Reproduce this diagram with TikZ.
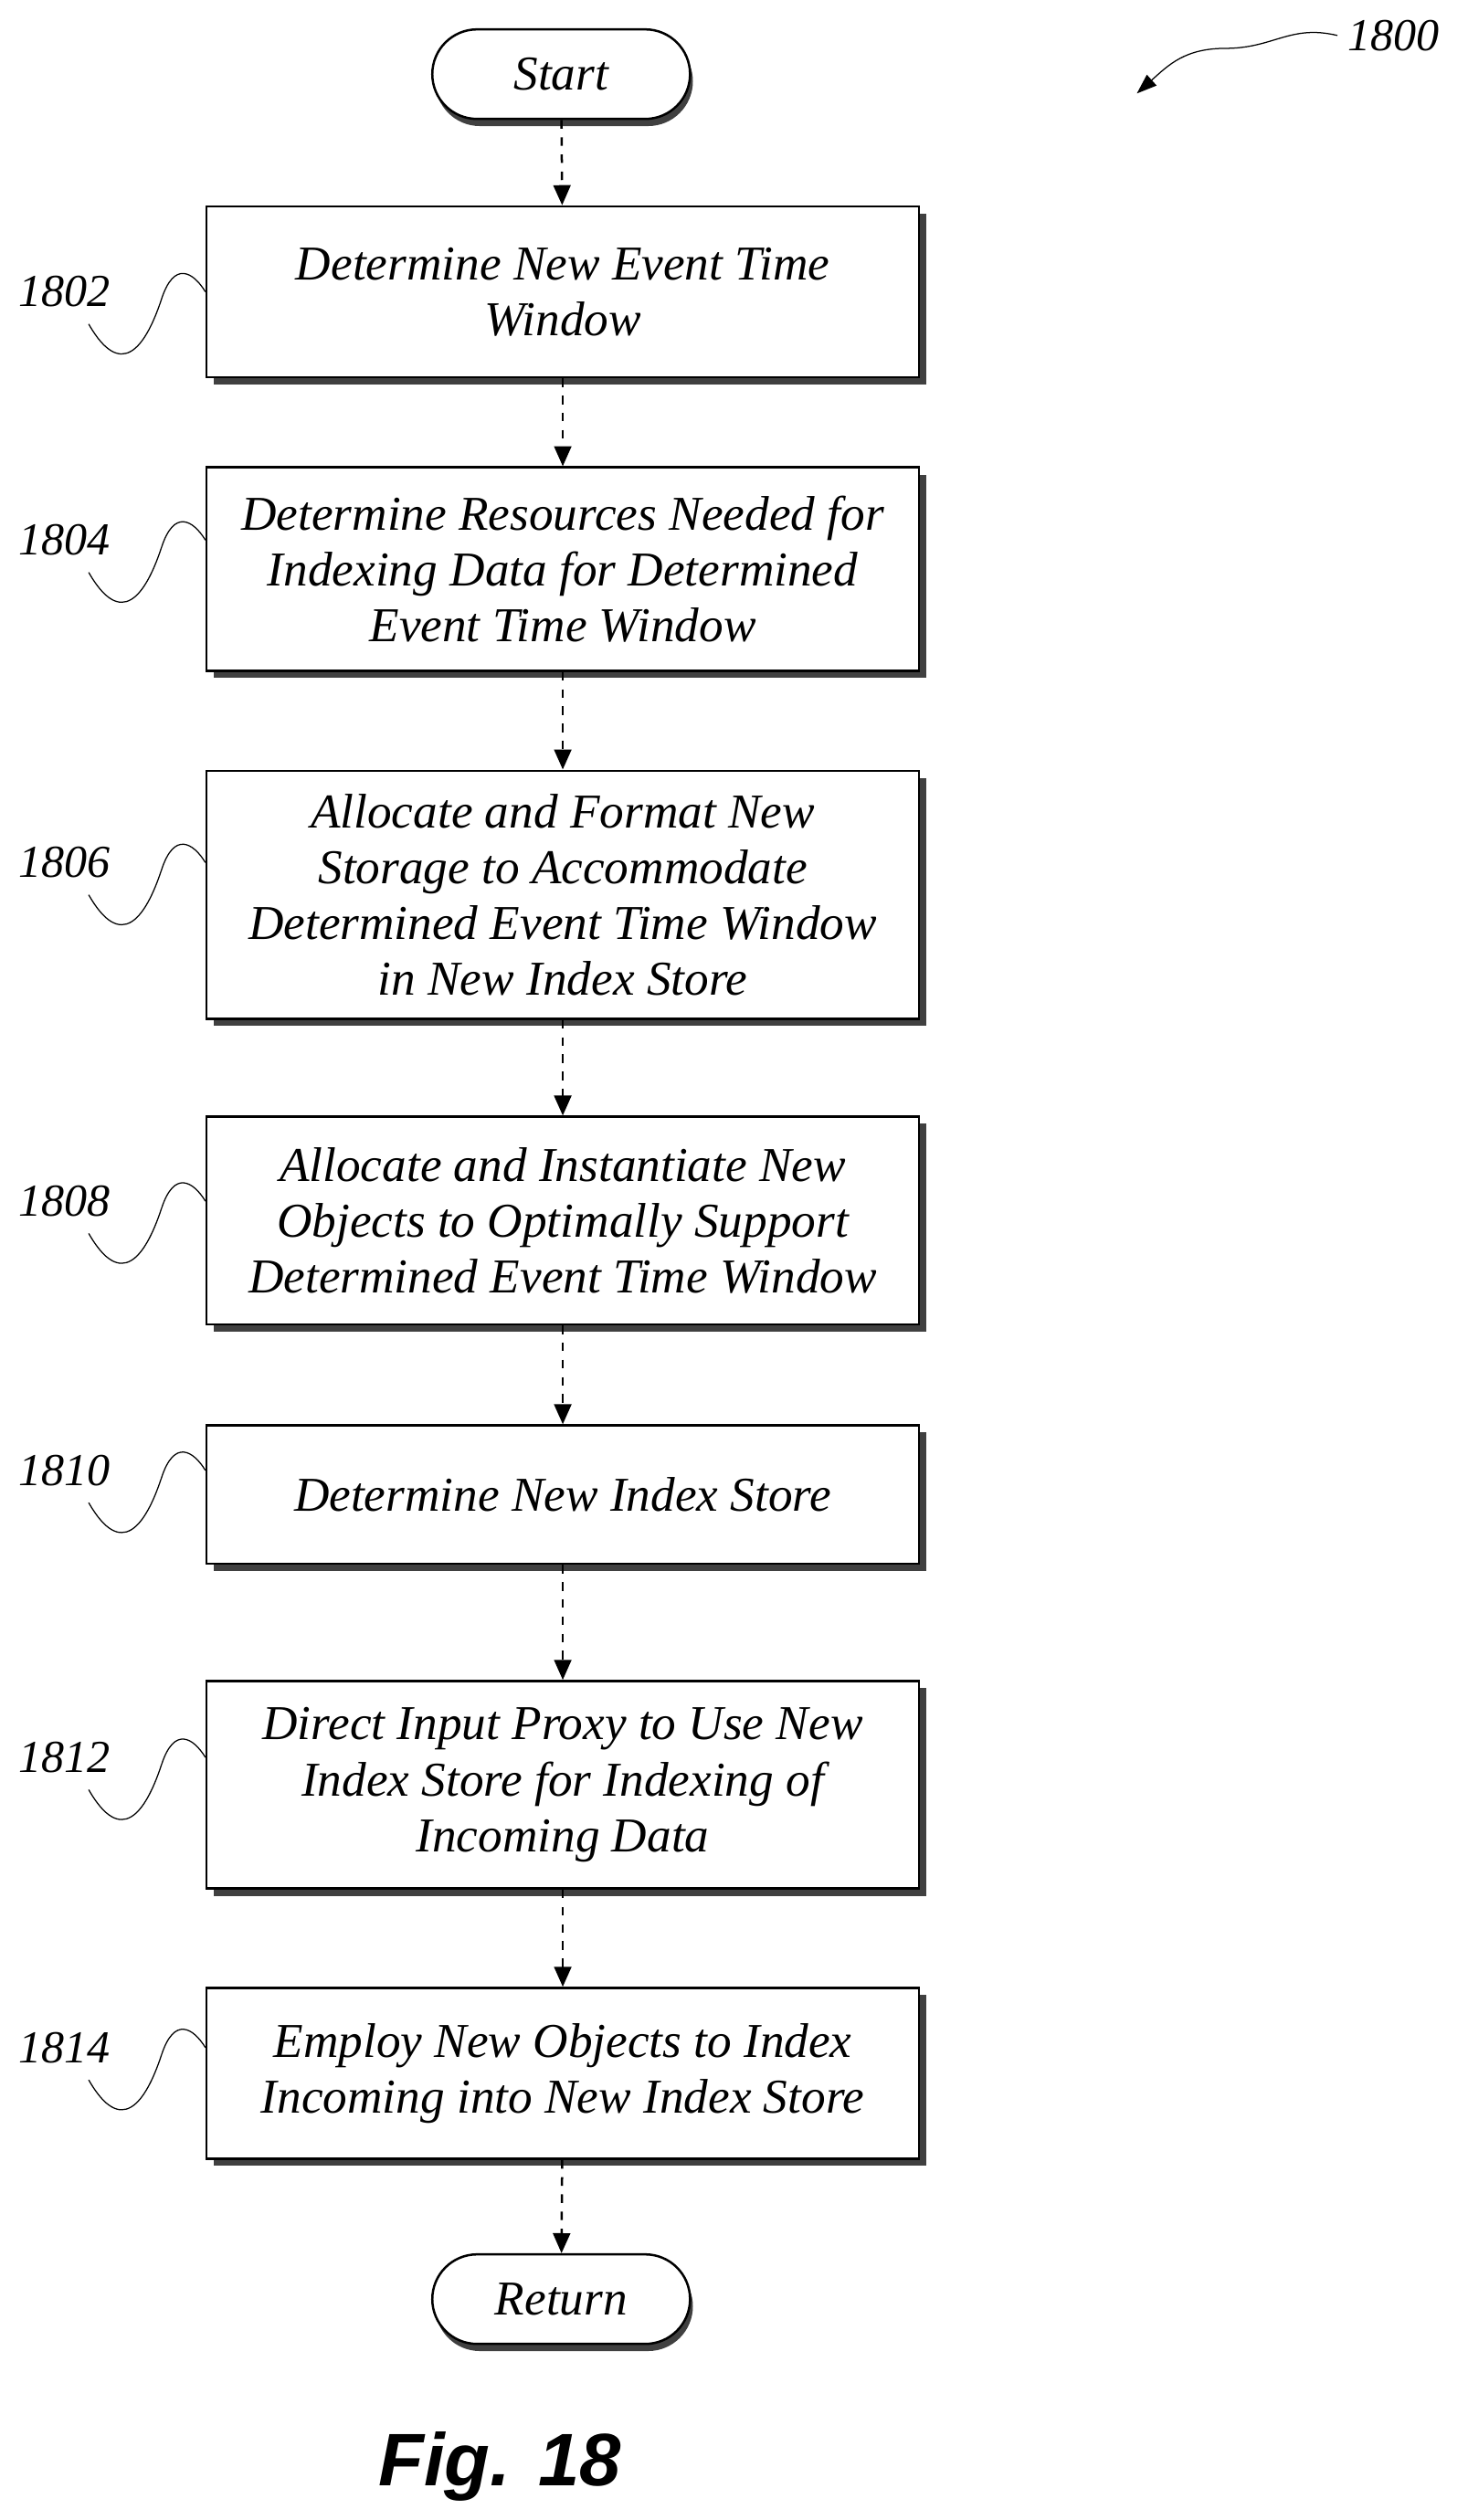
\documentclass[tikz,border=0pt]{standalone}
\usepackage{fontspec}
\setmainfont{Liberation Serif}
\newfontfamily\figfont{Liberation Sans}
\usetikzlibrary{shapes.misc,arrows.meta,shadows}
\tikzstyle{stepbox} = [rectangle, minimum width=8.75cm, align=center, draw=black, thick, fill=white, font=\fontsize{17}{19.5}\selectfont\itshape, drop shadow={shadow xshift=2.5pt, shadow yshift=-2.5pt, fill=black!75, opacity=1}]
\tikzstyle{term} = [rounded rectangle, minimum width=3.4cm, minimum height=1.1cm, draw=black, thick, fill=white, font=\fontsize{17}{19.5}\selectfont\itshape, drop shadow={shadow xshift=1pt, shadow yshift=-2.5pt, fill=black!75, opacity=1}]
\tikzstyle{arrow} = [thick, dashed, -{Triangle[length=7pt,width=6pt]}]
\tikzstyle{ref} = [font=\fontsize{16}{18}\selectfont\itshape]
\tikzstyle{squig} = [thin]

\begin{document}
\begin{tikzpicture}[x=0.0198cm, y=-0.0198cm]
\useasboundingbox (0,0) rectangle (910,1563);
\node (Start)[term] at (348,46) {Start};
\node (NewWindow)[stepbox, minimum height=2.1cm] at (349,181) {Determine New Event Time\\Window};
\node (Resources)[stepbox, minimum height=2.5cm] at (349,353) {Determine Resources Needed for\\Indexing Data for Determined\\Event Time Window};
\node (Storage)[stepbox, minimum height=3.05cm] at (349,555) {Allocate and Format New\\Storage to Accommodate\\Determined Event Time Window\\in New Index Store};
\node (Objects)[stepbox, minimum height=2.55cm] at (349,757) {Allocate and Instantiate New\\Objects to Optimally Support\\Determined Event Time Window};
\node (IndexStore)[stepbox, minimum height=1.7cm] at (349,927) {Determine New Index Store};
\node (Proxy)[stepbox, minimum height=2.55cm] at (349,1107) {Direct Input Proxy to Use New\\Index Store for Indexing of\\Incoming Data};
\node (Employ)[stepbox, minimum height=2.1cm] at (349,1286) {Employ New Objects to Index\\Incoming into New Index Store};
\node (Return)[term] at (348,1426) {Return};

\draw [arrow](Start) -- (NewWindow);
\draw [arrow](NewWindow) -- (Resources);
\draw [arrow](Resources) -- (Storage);
\draw [arrow](Storage) -- (Objects);
\draw [arrow](Objects) -- (IndexStore);
\draw [arrow](IndexStore) -- (Proxy);
\draw [arrow](Proxy) -- (Employ);
\draw [arrow](Employ) -- (Return);

% reference numerals
\foreach \num/\bx/\yy in {1802/NewWindow/181, 1804/Resources/335, 1806/Storage/535, 1808/Objects/745, 1810/IndexStore/912, 1812/Proxy/1090, 1814/Employ/1270} {
  \node (L\num)[ref] at (40,\yy) {\num};
  \draw [squig] (55,\yy+20) .. controls (75,\yy+55) and (90,\yy+35) .. (100,\yy+5) .. controls (108,\yy-20) and (120,\yy-12) .. (\bx.west |- 0,\yy);
}

\node (L1800)[ref] at (864,22) {1800};
\coordinate (tip) at (705,58);
\draw [thin, -{Triangle[length=7pt,width=5pt]}] (L1800.west) .. controls (800,15) and (790,30) .. (760,30) .. controls (735,30) and (725,40) .. (tip);

\node (Fig)[font=\figfont\fontsize{26}{30}\selectfont\bfseries\itshape] at (310,1530) {Fig. 18};
\end{tikzpicture}
\end{document}
